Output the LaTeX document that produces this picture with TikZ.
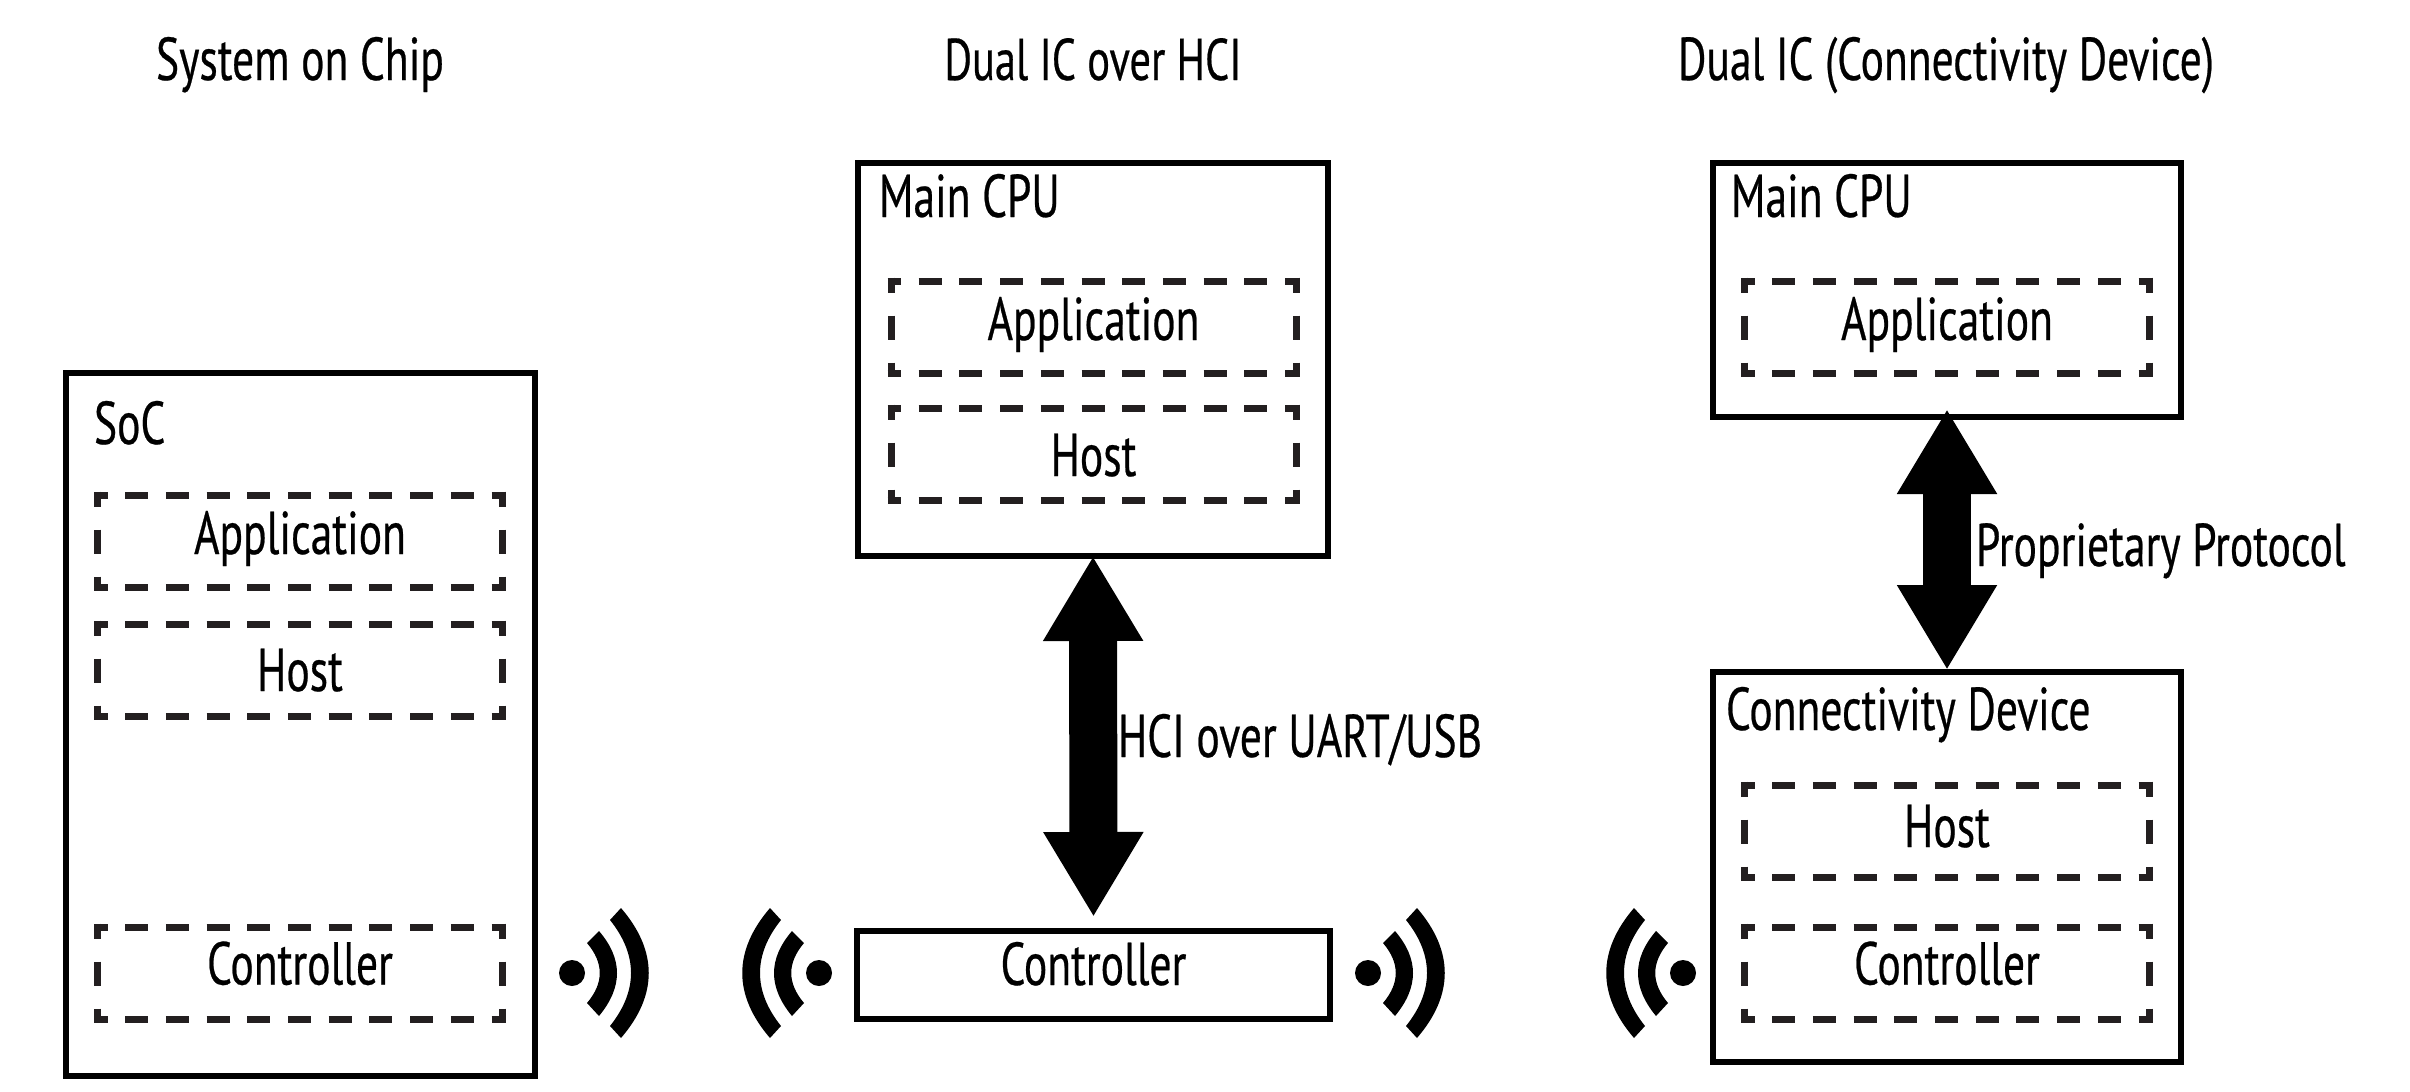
\documentclass[tikz,border=0pt]{standalone}
\usepackage{fontspec}
\setmainfont[FakeStretch=0.72,FakeBold=0.4]{PT Sans}
\usetikzlibrary{arrows.meta}
\definecolor{dashink}{HTML}{231F20}
\tikzset{
  x=1pt,y=-1pt,
  solidbox/.style={draw=black,line width=6.5pt,fill=white,outer sep=0pt,inner sep=0pt,line join=miter},
  ghost/.style={inner sep=0pt,outer sep=0pt,minimum width=405pt,minimum height=92pt,text height=38pt,text depth=12pt},
  hdash/.style={draw=dashink,line width=7pt,dash pattern=on 23pt off 17.7pt,dash phase=9.5pt,shorten <=-3.5pt,shorten >=-3.5pt},
  vdash/.style={draw=dashink,line width=7pt,dash pattern=on 24pt off 23pt,dash phase=9pt,shorten <=-3.5pt,shorten >=-3.5pt},
  lbl/.style={inner sep=0pt,outer sep=0pt,anchor=base west},
  ttl/.style={inner sep=0pt,outer sep=0pt,anchor=base},
  bigarrow/.style={draw=black,line width=48pt,{Triangle[length=85pt,width=94pt]}-{Triangle[length=85pt,width=94pt]}},
  waves/.pic={
    \fill[black] (0,0) circle (13pt);
    \fill[black] (27,-42) .. controls (51,-14) and (51,14) .. (27,43) -- (15,30) .. controls (32,10) and (32,-10) .. (15,-30) -- cycle;
    \fill[black] (49,-65) .. controls (86,-22) and (86,22) .. (49,65) -- (38,53) .. controls (66,18) and (66,-18) .. (38,-53) -- cycle;
  }
}
\newcommand{\dashedpart}[4]{%
  \node[ghost] (#1) at (#2,#3) {#4};
  \draw[hdash] (#1.north west) -- (#1.north east);
  \draw[hdash] (#1.south west) -- (#1.south east);
  \draw[vdash] (#1.north west) -- (#1.south west);
  \draw[vdash] (#1.north east) -- (#1.south east);
}
\begin{document}
\begin{tikzpicture}
\fontsize{60.5}{72}\selectfont
\useasboundingbox (0,0) rectangle (2410,1092);
\fill[white] (0,0) rectangle (2410,1092);

% titles
\node[ttl] (t1) at (300,80) {System on Chip};
\node[ttl] (t2) at (1093,80) {\fontsize{58.8}{72}\selectfont Dual IC over HCI};
\node[ttl] (t3) at (1946,80) {Dual IC (Connectivity Device)};

% SoC column
\node[solidbox,minimum width=469pt,minimum height=703pt] (soc) at (300.5,724.5) {};
\node[lbl] (soclbl) at (94,444) {SoC};
\dashedpart{socapp}{300}{541}{Application}
\dashedpart{sochost}{300}{670}{\raisebox{-8pt}{Host}}
\dashedpart{socctl}{300}{973}{\raisebox{1.5pt}{Controller}}

% middle column
\node[solidbox,minimum width=470pt,minimum height=393pt] (cpua) at (1093,359.5) {};
\node[lbl] (cpualbl) at (879,217) {Main CPU};
\dashedpart{midapp}{1093.5}{327}{Application}
\dashedpart{midhost}{1093.5}{454}{\raisebox{-9pt}{Host}}
\node[solidbox,minimum width=473pt,minimum height=88pt,text height=32pt,text depth=12pt] (ctl) at (1093.5,975) {Controller};

% right column
\node[solidbox,minimum width=468pt,minimum height=254pt] (cpub) at (1947,290) {};
\node[lbl] (cpublbl) at (1731,217) {Main CPU};
\dashedpart{rapp}{1947}{327}{Application}
\node[solidbox,minimum width=468pt,minimum height=390pt] (conn) at (1947,867) {};
\node[lbl] (connlbl) at (1726,730) {Connectivity Device};
\dashedpart{rhost}{1947}{831}{\raisebox{-3pt}{Host}}
\dashedpart{rctl}{1947}{973}{\raisebox{1.5pt}{Controller}}

% connectors
\draw[bigarrow,shorten <=0pt,shorten >=14pt] (cpua.south) -- (ctl.north);
\draw[bigarrow,shorten <=-8pt,shorten >=2pt] (cpub.south) -- (conn.north);
\node[lbl] (hci) at (1118,757) {HCI over UART/USB};
\node[lbl] (prop) at (1976,566) {Proprietary Protocol};

% radio symbols
\pic at (572,973) {waves};
\pic[xscale=-1] at (819,973) {waves};
\pic at (1368,973) {waves};
\pic[xscale=-1] at (1683,973) {waves};
\end{tikzpicture}
\end{document}
